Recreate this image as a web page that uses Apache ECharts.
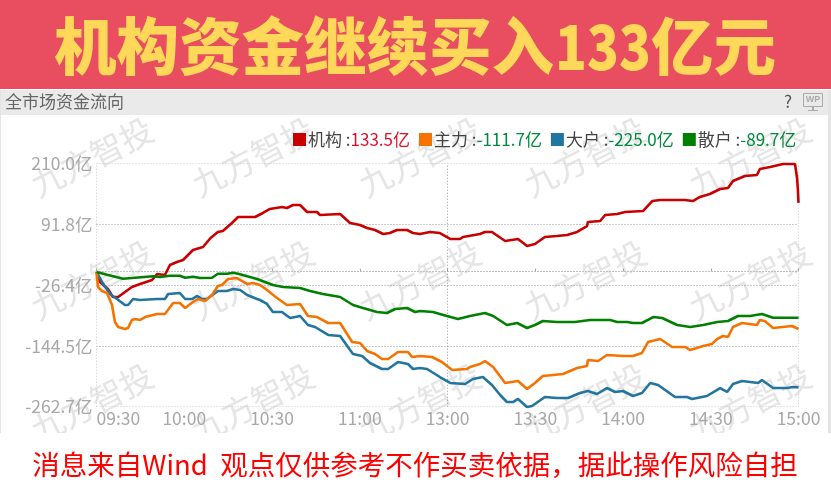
<!DOCTYPE html>
<html>
<head>
<meta charset="utf-8">
<style>html,body{margin:0;padding:0;background:#fff}#c{width:831px;height:483px}</style>
<script src="https://cdn.jsdelivr.net/npm/echarts@6/dist/echarts.min.js"></script>
</head>
<body>
<div id="c"></div>
<script>
const bannerLead = '机构资金继续买入';
const bannerAmount = '133';
const bannerUnit = '亿元';
const panelTitle = '全市场资金流向';
const footerText = '消息来自Wind  观点仅供参考不作买卖依据，据此操作风险自担';
const watermark = '九方智投';
const yTicks = [-262.7, -144.5, -26.4, 91.8, 210.0];
const xLabels = ['09:30','10:00','10:30','11:00','13:00','13:30','14:00','14:30','15:00'];
const seriesNames = ['机构','主力','大户','散户'];
const seriesLatest = ['133.5亿','-111.7亿','-225.0亿','-89.7亿'];

const redT = [0,1.2,3.9,5.6,7.4,12.1,14.9,19,20.7,23.4,25.1,27.5,29.6,33,36.4,39,41.5,43.2,46.3,48.4,54.2,56.9,59.3,63.4,65.1,67.2,69.6,72,75.4,76.4,83.3,86.7,90.1,92.5,95.2,98,100.3,102.7,106.2,108.2,110.6,114,117.4,120.9,124.3,125.3,131.1,132.8,135.2,139.7,144.1,147.2,149.9,153.3,157.4,160.9,164.3,167.7,168,172.2,173.9,178,180.7,186.9,190,192.7,201.2,203.9,206.3,209.7,213.2,215.9,217.6,221.7,225.8,226.8,230.3,234.7,238.8,239.5,239.8,240];
const redV = [-0.9,-20.3,-33.9,-49.5,-49.5,-30,-24.2,-16.4,-4.8,-6.7,12.7,18.6,22.4,41.9,47.7,65.2,76.9,78.8,94.3,106,106,113.8,121.6,125.5,123.5,129.3,129.3,115.7,115.7,109.9,111.9,94.3,90.5,84.6,80.8,73,74.9,80.8,80.8,74.9,73,76.9,74.9,63.3,63.3,67.2,73,76.9,76.9,59.4,63.3,49.7,53.6,67.2,69.1,71,76.9,88.5,96.3,98.2,109.9,111.9,115.7,117.7,137.1,139,139,137.1,144.9,150.7,160.4,162.4,176,185.7,187.7,199.3,203.2,209,209,181.8,158.5,133.5];

const orangeT = [0,0.5,1.9,3.6,5.3,6.3,7.4,9.7,10.8,12.1,13.2,14.9,16.6,20.7,23.4,26.2,28.5,30.3,33,34.7,37.1,39.5,41.5,42.9,45,48,51.5,53.5,55.9,58.3,61.7,65.1,69.6,72.3,75.4,79.2,83.3,87.4,90.1,92.5,95.2,97.6,99.7,103.1,106.5,107.9,110.6,114.7,118.1,121.6,126.7,127.7,131.1,132.8,135.6,139.7,144.1,147.2,149.9,152.6,159.5,164.3,167.7,168,171.5,174.5,180,183.4,186.5,188.6,192.7,196.8,201.2,203,207.4,210.4,212.2,214.2,215.9,217.6,220.7,225.8,226.8,228.5,231.3,237.8,240];
const orangeV = [-0.9,-30,-37.8,-41.7,-65,-98.1,-107.8,-111.7,-109.7,-94.2,-92.2,-94.2,-88.4,-82.5,-82.5,-61.2,-61.2,-70.9,-59.2,-53.4,-57.3,-45.6,-28.1,-26.2,-14.5,-12.6,-24.2,-22.3,-26.2,-35.9,-51.4,-65,-63,-86.4,-88.4,-100,-100,-136.9,-138.9,-154.4,-160.3,-170,-170,-156.4,-156.4,-166.1,-164.2,-166.1,-175.8,-191.4,-189.4,-185.5,-179.7,-173.9,-185.5,-216.6,-212.8,-228.3,-216.6,-203,-199.1,-187.5,-183.6,-171.9,-173.9,-162.2,-164.2,-164.2,-158.3,-136.9,-131.1,-146.6,-146.6,-152.5,-144.7,-140.8,-131.1,-125.3,-127.2,-107.8,-100,-103.9,-94.2,-96.1,-109.7,-105.8,-111.7];

const blueT = [0,1.9,4.6,7,9.7,10.8,12.5,14.9,20.7,23.4,24.5,28.5,30.3,32.7,34.4,36.1,37.8,41.5,44.6,46.7,49.1,51.5,54.9,55.9,58.3,60.3,63.4,66.2,69.6,72.3,74.7,79.2,83.3,86.7,87.7,90.8,93.5,97.6,99.7,103.1,106.5,108.2,110.6,113,117.4,120.9,126,128.7,132.1,135.2,138,140.3,142.4,144.1,147.2,148.9,153.3,157.4,161.2,165.3,168,171.1,174.5,177.3,180,183.4,186.5,189.3,192,197.8,201.9,203.6,208.7,213.2,215.6,217.6,220.7,226.2,227.5,231.3,236.1,238.1,240];
const blueV = [-0.9,-20.3,-43.6,-53.4,-65,-65,-53.4,-55.3,-53.4,-53.4,-43.6,-41.7,-53.4,-53.4,-47.5,-53.4,-53.4,-37.8,-37.8,-33.9,-35.9,-45.6,-53.4,-55.3,-63,-78.6,-78.6,-90.3,-86.4,-103.9,-107.8,-123.3,-125.3,-152.5,-160.3,-164.2,-177.8,-189.4,-189.4,-175.8,-179.7,-189.4,-187.5,-189.4,-205,-216.6,-218.6,-208.9,-205,-220.5,-240,-253.6,-253.6,-247.7,-263.3,-261.3,-243.8,-245.8,-245.8,-236.1,-232.2,-238,-226.4,-234.1,-232.2,-241.9,-236.1,-216.6,-220.5,-243.8,-243.8,-247.7,-241.9,-226.4,-234.1,-218.6,-212.8,-216.6,-210.8,-226.4,-226.4,-224.4,-225];

const greenT = [0,3.6,9.1,12.1,19.3,21.7,25.1,28.5,30.3,33,35.4,39.5,41.5,44.6,46.7,48.4,51.5,54.9,60.3,63.8,69.6,73,77.4,83.3,87.7,91.1,95.9,99.3,102.1,106.2,108.9,110.6,115,119.8,123.6,127.7,132.8,135.6,140.3,143.8,147.2,149.9,152.6,157.4,163.6,168.7,175.6,178,181.4,183.4,186.5,190.3,193.4,198.5,203,207.4,212.2,215.9,219.3,223.4,227.5,231.3,240];
const greenV = [-0.9,-6.1,-13.9,-12.6,-9.2,-10.6,-8.1,-8.1,-12,-10,-12.6,-12,-4.2,-4.2,-2.2,-4.2,-9.2,-14.5,-26.2,-30,-32,-37.8,-43.6,-49.5,-65,-70.9,-78.6,-80.6,-72.8,-70.9,-78.6,-76.7,-78.6,-86.4,-92.2,-86.4,-80.6,-86.4,-103.9,-100,-109.7,-103.9,-96.1,-98.1,-98.1,-94.2,-94.2,-98.1,-98.1,-100,-100,-88.4,-90.3,-103.9,-107.8,-103.9,-98.1,-96.1,-86.4,-86.4,-82.5,-89.7,-89.7];

const lineColors = ['#C80000','#F57300','#21759F','#008000'];
const lineZ = [10, 12, 11, 13];
const pairs = (t, v) => t.map((m, i) => [m, v[i]]);
const seriesData = [pairs(redT, redV), pairs(orangeT, orangeV), pairs(blueT, blueV), pairs(greenT, greenV)];
const CJK = '"Noto Sans CJK SC","Noto Sans",sans-serif';

const wmX = [92, 253, 420, 585, 750];
const wmY = [157, 280, 403];
const wmGraphics = [];
wmY.forEach(y => wmX.forEach(x => wmGraphics.push({
  type: 'text', x, y, rotation: 0.47, z: 1, silent: true,
  style: { text: watermark, font: '33px ' + CJK, fill: '#E5E5E5', textAlign: 'center', textVerticalAlign: 'middle' }
})));
const bannerFont = '900 62.5px ' + CJK;
const bannerFill = '#FFD85A';

const chart = echarts.init(document.getElementById('c'), null, { renderer: 'canvas' });
chart.setOption({
  animation: false,
  backgroundColor: '#fff',
  graphic: [
    { type: 'rect', z: 0, shape: { x: 0, y: 0, width: 831, height: 89 }, style: { fill: '#E84D60' } },
    { type: 'rect', z: 0, shape: { x: 1, y: 90, width: 827, height: 25 }, style: { fill: '#EAEAEA' } },
    { type: 'rect', z: 0, shape: { x: 828, y: 90, width: 3, height: 343 }, style: { fill: '#E4E4E4' } },
    { type: 'rect', z: 0, shape: { x: 0, y: 90, width: 1, height: 343 }, style: { fill: '#E4E4E4' } },
    ...wmGraphics,
    { type: 'rect', z: 5, shape: { x: 0, y: 433, width: 831, height: 50 }, style: { fill: '#fff' } },
    { type: 'text', z: 6, x: 54, y: 46, style: { text: bannerLead, font: bannerFont, fill: bannerFill, textVerticalAlign: 'middle' } },
    { type: 'text', z: 6, x: 555, y: 46, scaleX: 0.84, style: { text: bannerAmount, font: bannerFont, fill: bannerFill, textVerticalAlign: 'middle' } },
    { type: 'text', z: 6, x: 651, y: 46, style: { text: bannerUnit, font: bannerFont, fill: bannerFill, textVerticalAlign: 'middle' } },
    { type: 'text', z: 6, x: 5, y: 102, style: { text: panelTitle, font: '17px ' + CJK, fill: '#666', textVerticalAlign: 'middle' } },
    { type: 'text', z: 6, x: 788, y: 102, style: { text: '?', font: '17px ' + CJK, fill: '#555', textAlign: 'center', textVerticalAlign: 'middle' } },
    { type: 'rect', z: 6, shape: { x: 803.5, y: 93.5, width: 19, height: 13 }, style: { fill: 'none', stroke: '#AAA', lineWidth: 1 } },
    { type: 'text', z: 6, x: 813, y: 100, style: { text: 'WP', font: 'bold 9px "Liberation Sans",sans-serif', fill: '#AAA', textAlign: 'center', textVerticalAlign: 'middle' } },
    { type: 'rect', z: 6, shape: { x: 808, y: 110, width: 10, height: 1 }, style: { fill: '#AAA' } },
    { type: 'rect', z: 6, shape: { x: 812, y: 107, width: 2, height: 3 }, style: { fill: '#AAA' } },
    { type: 'text', z: 6, x: 415, y: 465, style: { text: footerText, font: '27.5px ' + CJK, fill: '#FF0000', textAlign: 'center', textVerticalAlign: 'middle' } }
  ],
  grid: { left: 96.5, right: 32.5, top: 163.5, bottom: 76.3 },
  legend: {
    left: 288, top: 126, itemWidth: 13, itemHeight: 13, itemGap: 9, icon: 'rect',
    selectedMode: false,
    data: seriesNames,
    formatter: name => {
      const i = seriesNames.indexOf(name);
      return '{n|' + name + '}{c| :}{' + (i === 0 ? 'p' : 'm') + '|' + seriesLatest[i] + '}';
    },
    textStyle: {
      padding: [0, 0, 0, -3],
      rich: {
        n: { fontFamily: CJK, fontSize: 17, color: '#444' },
        c: { fontFamily: CJK, fontSize: 17, color: '#444' },
        p: { fontFamily: CJK, fontSize: 17, color: '#E0102A' },
        m: { fontFamily: CJK, fontSize: 17, color: '#008A3C' }
      }
    }
  },
  xAxis: {
    type: 'value', min: 0, max: 240, interval: 30, z: 3,
    axisLine: { show: true, lineStyle: { color: '#BBB', type: [1, 2] } },
    axisTick: { show: true, inside: true, length: 3, lineStyle: { color: '#AAA' } },
    splitLine: { show: false },
    axisLabel: {
      fontFamily: CJK, fontSize: 17.5, color: '#A8A8A8', margin: 3,
      alignMinLabel: 'left', alignMaxLabel: 'center', showMaxLabel: true, showMinLabel: true,
      formatter: v => xLabels[v / 30]
    }
  },
  yAxis: {
    type: 'value', min: -262.7, max: 210, z: 3,
    axisLine: { show: false }, axisTick: { show: false, customValues: yTicks },
    splitLine: {
      show: true,
      lineStyle: { color: ['#CCCCCC', '#999999', '#999999', '#999999', '#CCCCCC'], type: [1, 2] }
    },
    axisLabel: {
      customValues: yTicks, fontFamily: CJK, fontSize: 17.5, color: '#A8A8A8', margin: 4,
      formatter: v => v.toFixed(1) + '亿'
    }
  },
  series: seriesNames.map((name, i) => ({
    name, type: 'line', data: seriesData[i], showSymbol: false, symbol: 'none',
    lineStyle: { color: lineColors[i], width: 2.6 },
    itemStyle: { color: lineColors[i] },
    clip: false, z: lineZ[i],
    markLine: i === 0 ? {
      silent: true, symbol: 'none', label: { show: false }, animation: false,
      lineStyle: { type: [1, 2], color: '#CCCCCC', width: 1 },
      emphasis: { disabled: true },
      data: [
        { xAxis: 0 },
        { xAxis: 120, lineStyle: { type: [1, 2], color: '#999999', width: 1 } },
        { xAxis: 240 }
      ]
    } : undefined
  }))
});
</script>
</body>
</html>
